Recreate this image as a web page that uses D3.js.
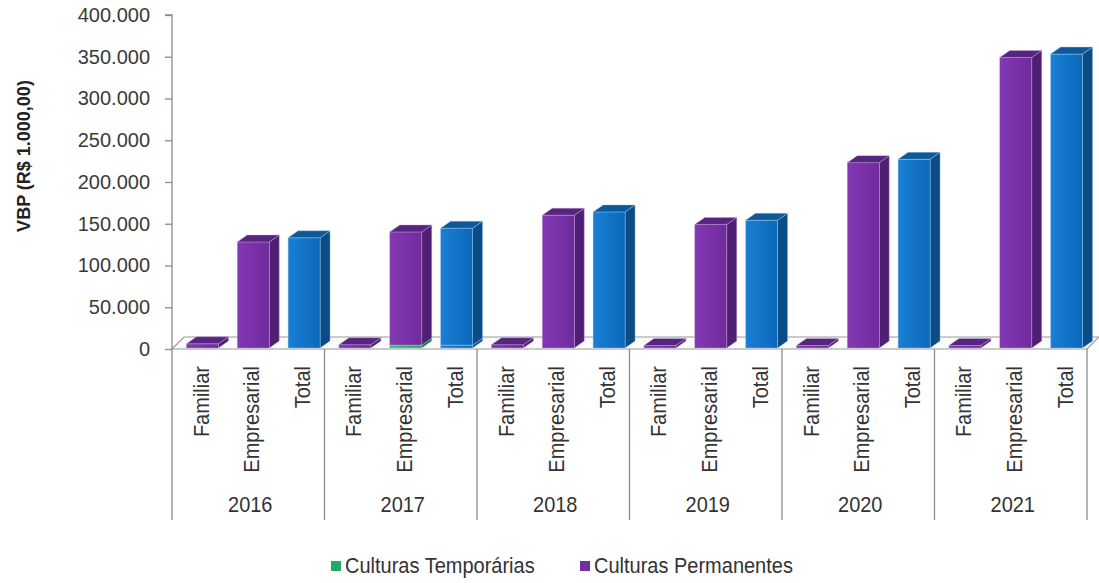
<!DOCTYPE html>
<html>
<head>
<meta charset="utf-8">
<script src="https://cdn.jsdelivr.net/npm/d3@7"></script>
<style>
  html, body { margin: 0; padding: 0; background: #fff; }
  svg { display: block; font-family: "Liberation Sans", Arial, sans-serif; }
</style>
</head>
<body>
<svg id="chart" width="1099" height="583"></svg>
<script>
// Valor Bruto da Produção por ano e tipo de agricultura (R$ 1.000,00)
const years = ["2016", "2017", "2018", "2019", "2020", "2021"];
const groups = ["Familiar", "Empresarial", "Total"];
const tickValues = [0, 50000, 100000, 150000, 200000, 250000, 300000, 350000, 400000];
const seriesNames = ["Culturas Temporárias", "Culturas Permanentes"];

// one value per year × group (Familiar, Empresarial, Total)
const temporarias = [
  0, 0, 0,
  0, 3500, 3500,
  0, 0, 0,
  0, 0, 0,
  0, 0, 0,
  0, 0, 0
];
const permanentes = [
  5000, 127000, 132000,
  4000, 135500, 140000,
  4000, 159000, 163000,
  3000, 148000, 153000,
  3000, 222000, 226000,
  3000, 348000, 352000
];

const svg = d3.select("#chart");
const defs = svg.append("defs");

const left = 172, right = 1087, y0px = 349, ytop = 15;
const depthX = 10, depthY = -7;      // bar depth (oblique projection)
const floorX = 12, floorY = -12;     // floor depth

const categories = [];
years.forEach(yr => groups.forEach(g => categories.push(yr + "|" + g)));

const x = d3.scaleBand().domain(categories).range([left, right]).paddingInner(0).paddingOuter(0);
const xYear = d3.scaleBand().domain(years).range([left, right]);
const y = d3.scaleLinear().domain([0, 400000]).range([y0px, ytop]);

const ptBR = d3.formatLocale({ decimal: ",", thousands: ".", grouping: [3], currency: ["R$", ""] });
const fmt = ptBR.format(",.0f");

// palettes: front, side, top, edge
const palette = {
  temp:  { front: ["#2fc47f", "#17a862"], side: "#0f7a46", top: "#1b9a5c", edge: "#8fe6bb" },
  perm:  { front: ["#8338b3", "#6f2b9d"], side: "#4e1f73", top: "#56267e", edge: "#c7a6e0" },
  total: { front: ["#1b7fd3", "#0a68bb"], side: "#0b4c86", top: "#0e5898", edge: "#9fd0f3" }
};
Object.entries(palette).forEach(([k, p]) => {
  const g = defs.append("linearGradient").attr("id", "grad-" + k)
    .attr("x1", "0%").attr("x2", "100%").attr("y1", "0%").attr("y2", "0%");
  g.append("stop").attr("offset", "0%").attr("stop-color", p.front[0]);
  g.append("stop").attr("offset", "100%").attr("stop-color", p.front[1]);
});

// floor
const floor = svg.append("g").attr("class", "floor");
floor.append("path")
  .attr("d", `M${left},${y(0)} L${right},${y(0)} L${right + floorX},${y(0) + floorY} L${left + floorX},${y(0) + floorY} Z`)
  .attr("fill", "#fbfbfb").attr("stroke", "#9a9a9a").attr("stroke-width", 1.2);

// y axis
const yAxis = d3.axisLeft(y).tickValues(tickValues).tickFormat(fmt).tickSize(7).tickPadding(15);
const gy = svg.append("g").attr("transform", `translate(${left},0)`).call(yAxis);
gy.select(".domain").attr("stroke", "#8c8c8c").attr("stroke-width", 1.3).attr("d", `M-7,${ytop}H0V${y0px}`);
gy.selectAll(".tick line").attr("stroke", "#8c8c8c").attr("stroke-width", 1.3);
gy.selectAll(".tick text")
  .attr("fill", "#3a3a3a").attr("font-size", 20)
  .attr("font-family", "'Liberation Sans', Arial, sans-serif");

// category dividers below the floor
const divX = years.map(yr => xYear(yr)).concat([right]);
svg.append("g").selectAll("line").data(divX).join("line")
  .attr("x1", d => d).attr("x2", d => d)
  .attr("y1", y(0)).attr("y2", 520)
  .attr("stroke", "#8c8c8c").attr("stroke-width", 1.3);

// bars
const barW = 32, barShift = 5;
function box(g, x0, yTop, yBot, p, gradId) {
  const x1 = x0 + barW;
  g.append("path") // side
    .attr("d", `M${x1},${yBot} L${x1 + depthX},${yBot + depthY} L${x1 + depthX},${yTop + depthY} L${x1},${yTop} Z`)
    .attr("fill", p.side).attr("stroke", p.edge).attr("stroke-width", 0.6).attr("stroke-opacity", 0.7);
  g.append("rect") // front
    .attr("x", x0).attr("y", yTop).attr("width", barW).attr("height", Math.max(0, yBot - yTop))
    .attr("fill", `url(#${gradId})`).attr("stroke", p.edge).attr("stroke-width", 0.6).attr("stroke-opacity", 0.7);
  g.append("path") // top
    .attr("d", `M${x0},${yTop} L${x0 + depthX},${yTop + depthY} L${x1 + depthX},${yTop + depthY} L${x1},${yTop} Z`)
    .attr("fill", p.top).attr("stroke", p.edge).attr("stroke-width", 0.6).attr("stroke-opacity", 0.7);
}

const bars = svg.append("g").attr("class", "bars");
categories.forEach((c, i) => {
  const isTotal = c.endsWith("|Total");
  const x0 = x(c) + x.bandwidth() / 2 - barW / 2 + barShift;
  const g = bars.append("g");
  const t = temporarias[i], p = permanentes[i];
  const base = y(0) - 1;
  if (t > 0) {
    box(g, x0, y(t) - 1, base, isTotal ? palette.total : palette.temp, isTotal ? "grad-total" : "grad-temp");
  }
  box(g, x0, y(t + p) - 1, y(t) - 1, isTotal ? palette.total : palette.perm, isTotal ? "grad-total" : "grad-perm");
});

// category labels (rotated)
const stretch = 1.14;
svg.append("g").selectAll("text").data(categories).join("text")
  .attr("transform", d => `translate(${x(d) + x.bandwidth() / 2 + 3},366) rotate(-90) scale(1,${stretch})`)
  .attr("text-anchor", "end").attr("dy", "0.36em")
  .attr("font-size", 20).attr("fill", "#333")
  .text(d => d.split("|")[1]);

// year labels
svg.append("g").selectAll("text").data(years).join("text")
  .attr("transform", d => `translate(${xYear(d) + xYear.bandwidth() / 2 + 2},512) scale(1,${stretch})`)
  .attr("text-anchor", "middle").attr("font-size", 20).attr("fill", "#333")
  .text(d => d);

// y axis title
svg.append("text")
  .attr("transform", "translate(24,156) rotate(-90)")
  .attr("text-anchor", "middle").attr("dy", "0.35em")
  .attr("font-size", 18).attr("font-weight", "bold").attr("fill", "#222")
  .text("VBP (R$ 1.000,00)");

// legend
const legendItems = [
  { name: seriesNames[0], color: "#1faa66", x: 331 },
  { name: seriesNames[1], color: "#7030a0", x: 580 }
];
const lg = svg.append("g").selectAll("g").data(legendItems).join("g")
  .attr("transform", d => `translate(${d.x},0)`);
lg.append("rect").attr("x", 0).attr("y", 561).attr("width", 10).attr("height", 10).attr("fill", d => d.color);
lg.append("text")
  .attr("transform", `translate(14,573) scale(1,${stretch})`)
  .attr("font-size", 20).attr("fill", "#333")
  .text(d => d.name);
</script>
</body>
</html>
